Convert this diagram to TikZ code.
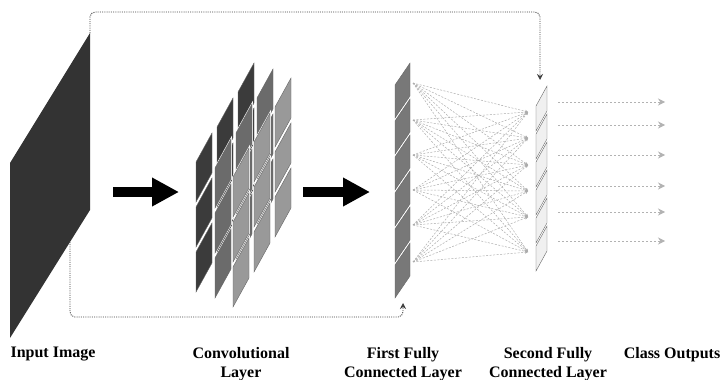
\documentclass[tikz,border=0pt]{standalone}
\usepackage{fontspec}
\setmainfont{Liberation Serif}
\usetikzlibrary{arrows.meta}

\tikzset{
  tile/.style={fill=#1, draw=black!60, line width=0.4pt, preaction={draw=white, line width=1.6pt}},
  fan/.style={gray!65, dash pattern=on 2pt off 1.5pt, line width=0.5pt, -{Stealth[length=3pt,width=3pt]}},
  feedback/.style={black!75, dash pattern=on 1pt off 1.2pt, line width=0.9pt, rounded corners=5pt, -{Stealth[length=6pt,width=6pt]}},
  output/.style={gray!60, dash pattern=on 2pt off 2pt, line width=0.8pt, -{Stealth[length=7pt,width=7pt]}},
  bigarrow/.style={line width=10pt, -{Triangle[length=27pt,width=27pt]}},
  caption/.style={font=\fontsize{16}{19}\selectfont\bfseries, align=center, inner sep=0pt, anchor=north}
}

\begin{document}
\begin{tikzpicture}[x=1pt, y=-1pt]
  \useasboundingbox (0,0) rectangle (720,380);

  % input image
  \fill[black!80] (10,163) -- (90,33) -- (90,210) -- (10,338) -- cycle;
  \coordinate (img-top) at (90,33);
  \coordinate (img-low) at (70,242);

  % convolutional layer: three 3x3 slices, back to front
  \foreach \sx/\sy/\col in {196/162/black!77, 215/168/black!58, 233/177/black!40} {
    \foreach \c in {0,1,2} {
      \foreach \r in {0,1,2} {
        \draw[tile=\col] ({\sx+21*\c},{\sy-35*\c+45*\r}) -- ++(16,-29) -- ++(0,40) -- ++(-16,29) -- cycle;
      }
    }
  }

  % first fully connected layer
  \foreach \i in {0,...,5} {
    \draw[tile=black!53] (395,{85+36*\i}) -- ++(15,-22) -- ++(0,33) -- ++(-15,22) -- cycle;
  }
  \coordinate (fc1-foot) at (403,303);

  % second fully connected layer
  \foreach \i in {0,...,5} {
    \draw[tile=black!6] (536,{106+28*\i}) -- ++(11,-20) -- ++(0,25) -- ++(-11,20) -- cycle;
  }
  \coordinate (fc2-head) at (540,80);

  % big arrows between the stages
  \coordinate (a1) at (113,192);
  \coordinate (b1) at (179,192);
  \coordinate (a2) at (303,192);
  \coordinate (b2) at (370,192);
  \draw[bigarrow] (a1) -- (b1);
  \draw[bigarrow] (a2) -- (b2);

  % all-to-all links
  \foreach \y [count=\i] in {83,120,155,190,225,262}
    \coordinate (l\i) at (413,\y);
  \foreach \y [count=\j] in {112,138,165,191,217,252}
    \coordinate (r\j) at (528,\y);
  \foreach \i in {1,...,6} {
    \foreach \j in {1,...,6} {
      \draw[fan] (l\i) -- (r\j);
    }
  }

  % class outputs
  \foreach \y [count=\k] in {102,125,155,186,212,241} {
    \coordinate (o\k) at (558,\y);
    \coordinate (e\k) at (665,\y);
    \draw[output] (o\k) -- (e\k);
  }

  % skip paths
  \draw[feedback] (img-top) -- ++(0,-21) -| (fc2-head);
  \draw[feedback] (img-low) -- ++(0,75) -| (fc1-foot);

  % captions
  \node[caption] (cap-in)   at (53,347)  {Input Image};
  \node[caption] (cap-conv) at (241,347) {Convolutional\\Layer};
  \node[caption] (cap-fc1)  at (403,347) {First Fully\\Connected Layer};
  \node[caption] (cap-fc2)  at (548,347) {Second Fully\\Connected Layer};
  \node[caption] (cap-out)  at (672,347) {Class Outputs};
\end{tikzpicture}
\end{document}
